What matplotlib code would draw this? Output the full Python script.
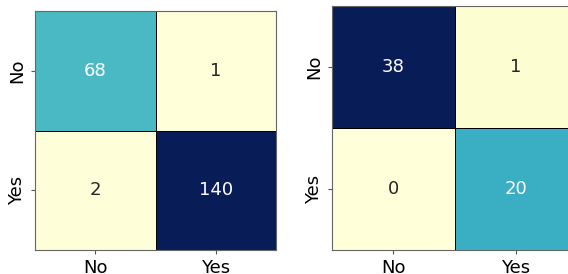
import matplotlib
matplotlib.use("Agg")
import matplotlib.pyplot as plt
import seaborn as sns
import numpy as np

labels = ["No", "Yes"]
cm_left = np.array([[68, 1], [2, 140]])
cm_right = np.array([[38, 1], [0, 20]])

W, H = 568, 274
fig = plt.figure(figsize=(W / 100, H / 100), dpi=100)
ax1 = fig.add_axes([35 / W, (H - 250) / H, 241 / W, 239 / H])
ax2 = fig.add_axes([332 / W, (H - 250) / H, 245 / W, 244 / H])

for ax, cm in ((ax1, cm_left), (ax2, cm_right)):
    sns.heatmap(cm, ax=ax, cmap="YlGnBu", annot=True, fmt="d", cbar=False,
                linewidths=0.5, linecolor="black",
                xticklabels=labels, yticklabels=labels,
                annot_kws={"fontsize": 13})
    ax.tick_params(axis="both", labelsize=13, length=3, color="#555555")
    ax.set_yticklabels(labels, rotation=90, va="center")
    for s in ax.spines.values():
        s.set_visible(True)
        s.set_linewidth(0.8)
        s.set_color("#666666")

fig.savefig("out.png", dpi=100)
